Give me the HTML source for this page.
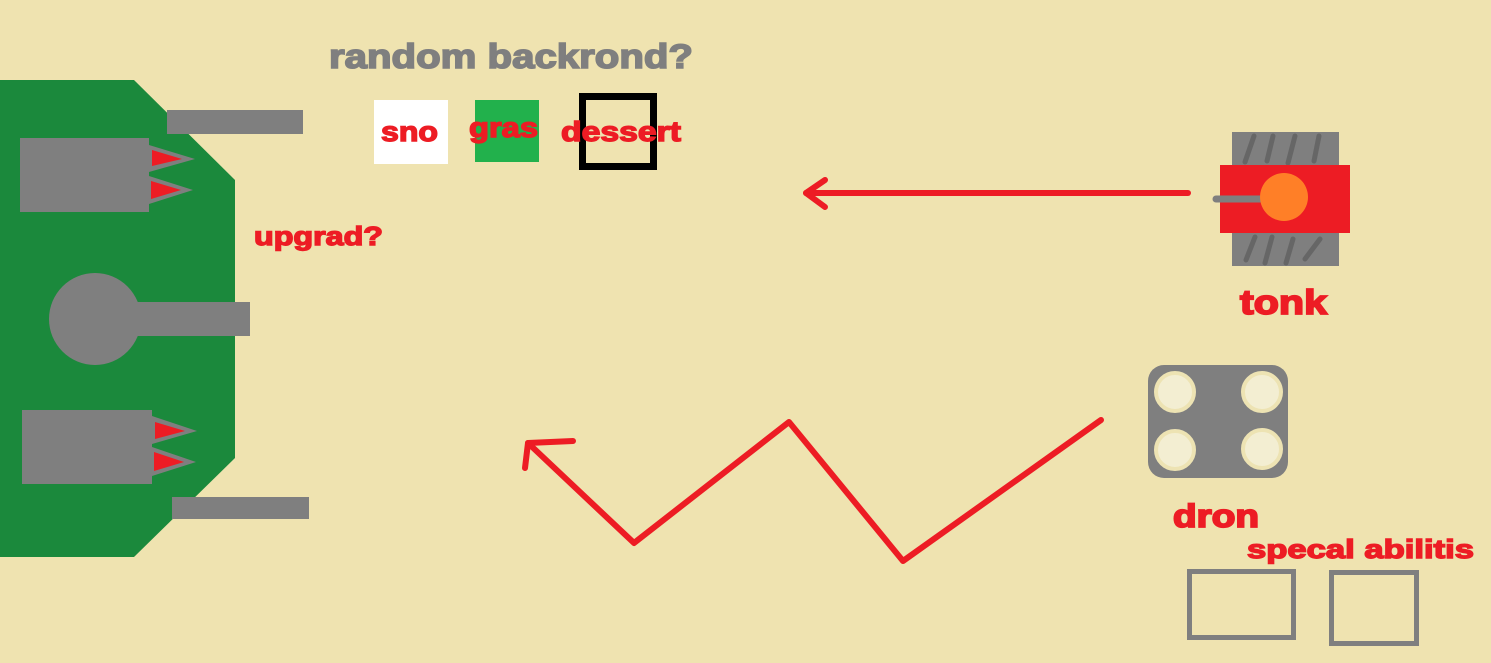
<!DOCTYPE html>
<html><head><meta charset="utf-8"><style>
html,body{margin:0;padding:0;background:#efe3b0;}
svg{display:block;}
text{font-family:"Liberation Sans","DejaVu Sans",sans-serif;font-weight:900;}
</style></head><body>
<svg width="1491" height="663" viewBox="0 0 1491 663">
<rect x="0" y="0" width="1491" height="663" fill="#efe3b0"/>
<g>
<polygon points="0,80 134,80 235,180 235,458 134,557 0,557" fill="#1b893c"/>
<rect x="167" y="110" width="136" height="24" fill="#7f7f7f"/>
<rect x="20" y="138" width="129" height="74" fill="#7f7f7f"/>
<polygon points="149,145 195,159 149,172" fill="#7f7f7f"/><polygon points="152,150 182,159 152,166" fill="#ed1c24"/>
<polygon points="149,176 193,190 149,204" fill="#7f7f7f"/><polygon points="151,181 181,190 151,199" fill="#ed1c24"/>
<circle cx="95" cy="319" r="46" fill="#7f7f7f"/>
<rect x="130" y="302" width="120" height="34" fill="#7f7f7f"/>
<rect x="22" y="410" width="130" height="74" fill="#7f7f7f"/>
<polygon points="152,416 197,431 152,444" fill="#7f7f7f"/><polygon points="155,422 185,431 155,439" fill="#ed1c24"/>
<polygon points="152,447 196,462 152,476" fill="#7f7f7f"/><polygon points="154,452 184,462 154,471" fill="#ed1c24"/>
<rect x="172" y="497" width="137" height="22" fill="#7f7f7f"/>
</g>
<text x="329" y="68" font-size="34" font-weight="bold" fill="#7f7f7f" stroke="#7f7f7f" stroke-width="1.6" textLength="364" lengthAdjust="spacingAndGlyphs">random backrond?</text>
<rect x="374" y="100" width="74" height="64" fill="#ffffff"/>
<rect x="475" y="100" width="64" height="62" fill="#22b14c"/>
<rect x="582.5" y="96.5" width="71" height="70" fill="none" stroke="#000" stroke-width="7"/>
<g fill="#ed1c24" stroke="#ed1c24" stroke-width="1.4" font-weight="bold">
<text x="381" y="141" font-size="28" textLength="57" lengthAdjust="spacingAndGlyphs">sno</text>
<text x="469" y="137" font-size="28" textLength="69" lengthAdjust="spacingAndGlyphs">gras</text>
<text x="561" y="141" font-size="28" textLength="120" lengthAdjust="spacingAndGlyphs">dessert</text>
<text x="254" y="245" font-size="26" textLength="129" lengthAdjust="spacingAndGlyphs">upgrad?</text>
<text x="1240" y="314" font-size="34" stroke-width="1.8" textLength="87" lengthAdjust="spacingAndGlyphs">tonk</text>
<text x="1173" y="527" font-size="32" stroke-width="1.8" textLength="86" lengthAdjust="spacingAndGlyphs">dron</text>
<text x="1247" y="558" font-size="26" textLength="227" lengthAdjust="spacingAndGlyphs">specal abilitis</text>
</g>
<g>
<rect x="1232" y="132" width="107" height="134" fill="#7f7f7f"/>
<g stroke="#666" stroke-width="5" stroke-linecap="round">
<line x1="1245" y1="162" x2="1254" y2="136"/><line x1="1267" y1="161" x2="1273" y2="136"/><line x1="1288" y1="163" x2="1295" y2="136"/><line x1="1314" y1="161" x2="1319" y2="136"/>
<line x1="1246" y1="260" x2="1255" y2="237"/><line x1="1265" y1="263" x2="1272" y2="237"/><line x1="1286" y1="263" x2="1293" y2="239"/><line x1="1305" y1="259" x2="1320" y2="239"/>
</g>
<rect x="1220" y="165" width="130" height="68" fill="#ed1c24"/>
<line x1="1216" y1="199" x2="1260" y2="199" stroke="#7f7f7f" stroke-width="7" stroke-linecap="round"/>
<circle cx="1284" cy="197" r="24" fill="#ff7f27"/>
</g>
<g>
<rect x="1148" y="365" width="140" height="113" rx="16" fill="#7f7f7f"/>
<g fill="#f3eed2" stroke="#ede3b3" stroke-width="4">
<circle cx="1175" cy="392" r="19"/><circle cx="1262" cy="392" r="19"/><circle cx="1175" cy="450" r="19"/><circle cx="1262" cy="449" r="19"/>
</g>
</g>
<g fill="none" stroke="#ed1c24" stroke-width="6" stroke-linecap="round" stroke-linejoin="round">
<polyline points="1188,193 806,193"/>
<polyline points="825,180 806,193 825,207"/>
<polyline points="1101,420 903,561 789,422 634,543 528,443"/>
<polyline points="573,441 528,443 525,468"/>
</g>
<rect x="1189.5" y="571.5" width="104" height="66" fill="none" stroke="#7f7f7f" stroke-width="5"/>
<rect x="1331.5" y="572.5" width="85" height="71" fill="none" stroke="#7f7f7f" stroke-width="5"/>
</svg>
</body></html>
